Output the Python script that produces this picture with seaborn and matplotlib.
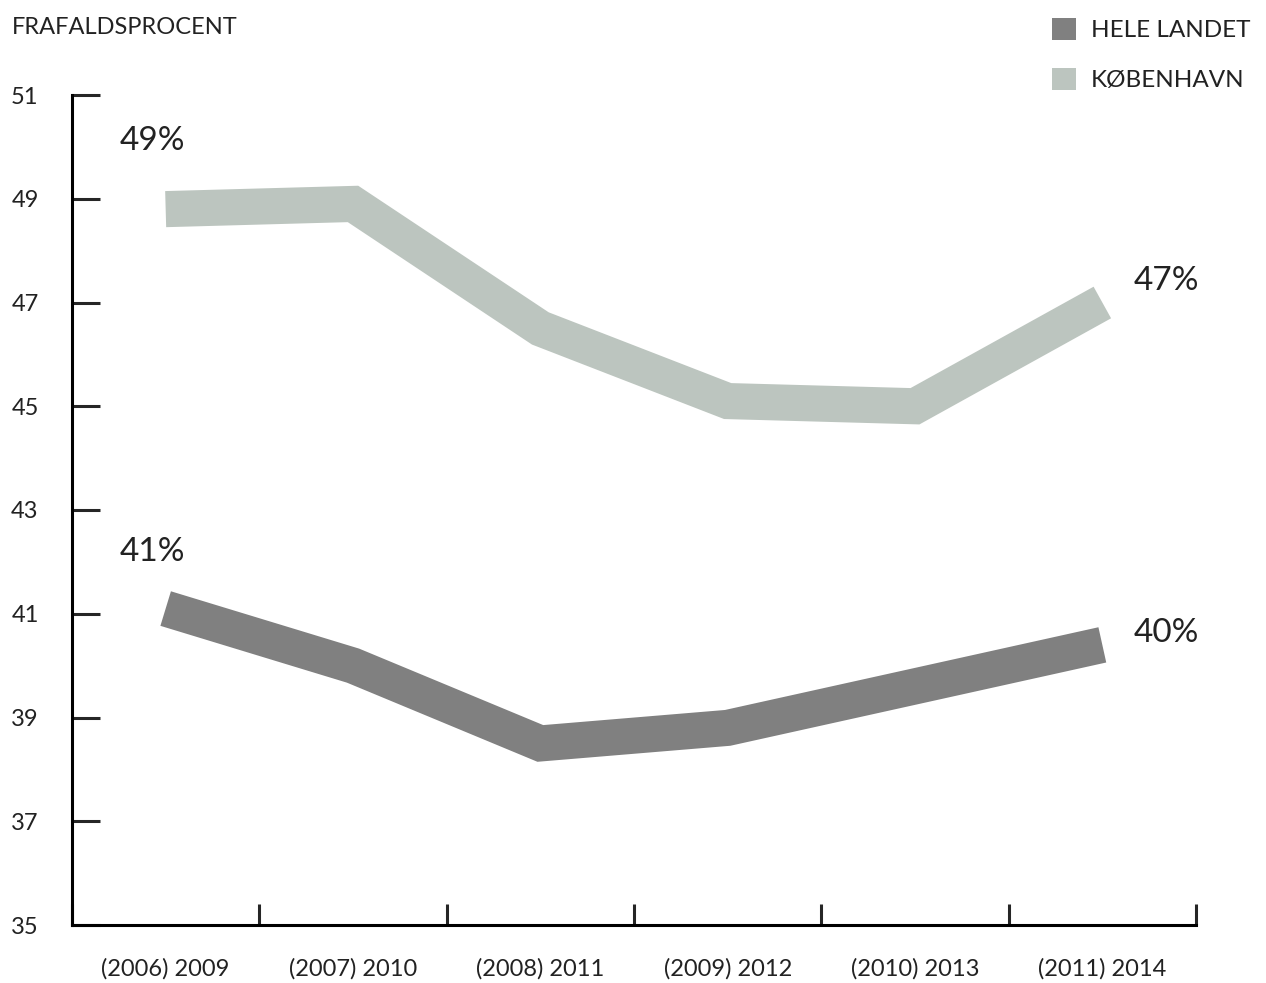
import pandas as pd
import matplotlib.pyplot as plt
import seaborn as sns
from matplotlib.patches import Patch

# data
periods = ["(2006) 2009", "(2007) 2010", "(2008) 2011", "(2009) 2012", "(2010) 2013", "(2011) 2014"]
hele_landet = [41.1, 40.0, 38.5, 38.8, 39.6, 40.4]
koebenhavn = [48.8, 48.9, 46.5, 45.1, 45.0, 47.0]
series_names = ["HELE LANDET", "KØBENHAVN"]
colors = ["#808080", "#bcc5bf"]

df = pd.DataFrame({
    "x": list(range(len(periods))) * 2,
    "value": hele_landet + koebenhavn,
    "serie": [series_names[0]] * len(periods) + [series_names[1]] * len(periods),
})

sns.set_style("white")
plt.rcParams["font.family"] = ["Lato", "DejaVu Sans"]
text_color = "#222222"

fig = plt.figure(figsize=(12.66, 9.83), dpi=100)
ax = fig.add_axes([72 / 1266, 1 - 925 / 983, (1196 - 72) / 1266, (925 - 95) / 983])

sns.lineplot(data=df, x="x", y="value", hue="serie", palette=colors, ax=ax,
             linewidth=26, solid_capstyle="butt", solid_joinstyle="miter", legend=False)

ax.set_xlim(-0.5, len(periods) - 0.5)
ax.set_ylim(35, 51)
ax.set_xlabel("")
ax.set_ylabel("")

# spines
for side in ["top", "right"]:
    ax.spines[side].set_visible(False)
for side in ["left", "bottom"]:
    ax.spines[side].set_linewidth(2.2)
    ax.spines[side].set_color("black")

# y ticks
ax.set_yticks(range(35, 52, 2))
ax.tick_params(axis="y", direction="in", length=20, width=2.2, labelsize=17,
               pad=24, labelcolor=text_color, left=True)

# x ticks at band edges, labels at centers
ax.set_xticks([i - 0.5 for i in range(len(periods) + 1)])
ax.set_xticklabels([""] * (len(periods) + 1))
ax.set_xticks(range(len(periods)), minor=True)
ax.set_xticklabels(periods, minor=True)
ax.tick_params(axis="x", which="major", direction="in", length=15, width=2.2, bottom=True)
ax.tick_params(axis="x", which="minor", length=0, labelsize=17, pad=24, labelcolor=text_color)

# end labels (offsets in pixels)
ax.annotate(f"{round(koebenhavn[0])}%", (0, koebenhavn[0]), xytext=(-13, 68),
            textcoords="offset pixels", ha="center", va="center", fontsize=24, color=text_color)
ax.annotate(f"{round(hele_landet[0])}%", (0, hele_landet[0]), xytext=(-13, 57),
            textcoords="offset pixels", ha="center", va="center", fontsize=24, color=text_color)
ax.annotate(f"{round(koebenhavn[-1])}%", (len(periods) - 1, koebenhavn[-1]), xytext=(64, 22),
            textcoords="offset pixels", ha="center", va="center", fontsize=24, color=text_color)
ax.annotate(f"{round(hele_landet[-1])}%", (len(periods) - 1, hele_landet[-1]), xytext=(64, 12),
            textcoords="offset pixels", ha="center", va="center", fontsize=24, color=text_color)

fig.text(12 / 1266, 1 - 28 / 983, "FRAFALDSPROCENT", fontsize=17, va="center", ha="left", color=text_color)

handles = [Patch(facecolor=c, edgecolor="none") for c in colors]
fig.legend(handles, series_names, loc="upper right", bbox_to_anchor=(1.005, 1.004), frameon=False,
           fontsize=17.5, handlelength=1.0, handleheight=1.0, labelspacing=1.1, handletextpad=0.6,
           labelcolor=text_color)

fig.savefig("out.png", dpi=100)
